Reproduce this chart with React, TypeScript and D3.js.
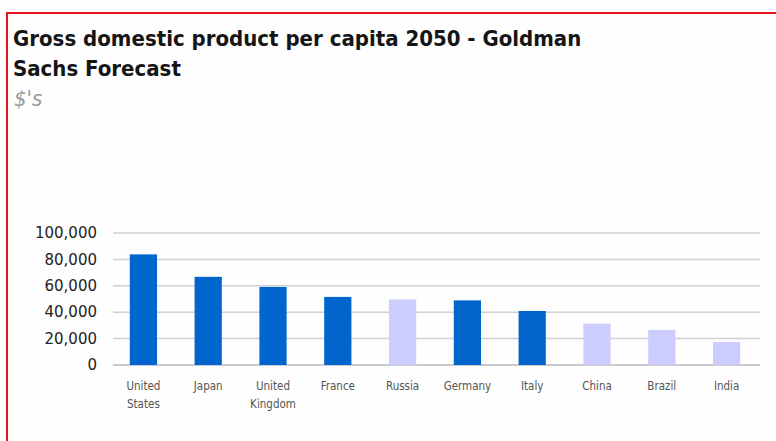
import React from "react";
import * as d3 from "d3";

const categories = ["United States", "Japan", "United Kingdom", "France", "Russia", "Germany", "Italy", "China", "Brazil", "India"];
const values = [83805, 66805, 59122, 51594, 49646, 48952, 40901, 31357, 26592, 17366];
const g7 = [true, true, true, true, false, true, true, false, false, false];
const yTicks = [0, 20000, 40000, 60000, 80000, 100000];
const titleLines = ["Gross domestic product per capita 2050 - Goldman", "Sachs Forecast"];
const subtitle = "$'s";

const W = 776;
const H = 441;

export default function App() {
  const x = d3.scaleBand<string>().domain(categories).range([111, 759]).paddingInner(0.58).paddingOuter(0.29);
  const y = d3.scaleLinear().domain([0, 100000]).range([365, 233]);
  const fmt = d3.format(",");
  return (
    <svg width={W} height={H} style={{ position: "absolute", left: 0, top: 0, background: "#fdfefd" }}>
      <rect x={7} y={13} width={W + 20} height={H + 20} fill="#fdfefd" stroke="#e8141c" strokeWidth={2} />
      {titleLines.map((t, i) => (
        <text key={i} x={13} y={46 + i * 29.5} fontFamily="DejaVu Sans Condensed, DejaVu Sans" fontStretch="condensed" fontWeight="bold" fontSize={22} fill="#151515">
          {t}
        </text>
      ))}
      <text x={14} y={106} fontFamily="DejaVu Sans Condensed, DejaVu Sans" fontStretch="condensed" fontStyle="italic" fontSize={22} fill="#9a9a9a">
        {subtitle}
      </text>
      {yTicks.map((t) => (
        <g key={t}>
          <line x1={113} x2={760} y1={y(t)} y2={y(t)} stroke={t === 0 ? "#b8b8c0" : "#d0d0d6"} strokeWidth={1.5} />
          <text x={97} y={y(t)} dy="0.35em" textAnchor="end" fontFamily="DejaVu Sans" fontSize={15} fill="#222">
            {fmt(t)}
          </text>
        </g>
      ))}
      {categories.map((c, i) => (
        <rect
          key={c}
          x={x(c)}
          y={y(values[i])}
          width={x.bandwidth()}
          height={y(0) - y(values[i])}
          fill={g7[i] ? "#0065cc" : "#ccccfe"}
        />
      ))}
      {categories.map((c) => (
        <text key={c} textAnchor="middle" fontFamily="DejaVu Sans Condensed, DejaVu Sans" fontStretch="condensed" fontSize={11.5} fill="#555">
          {c.split(" ").map((p, j) => (
            <tspan key={j} x={(x(c) as number) + x.bandwidth() / 2} y={390 + j * 18}>
              {p}
            </tspan>
          ))}
        </text>
      ))}
    </svg>
  );
}
